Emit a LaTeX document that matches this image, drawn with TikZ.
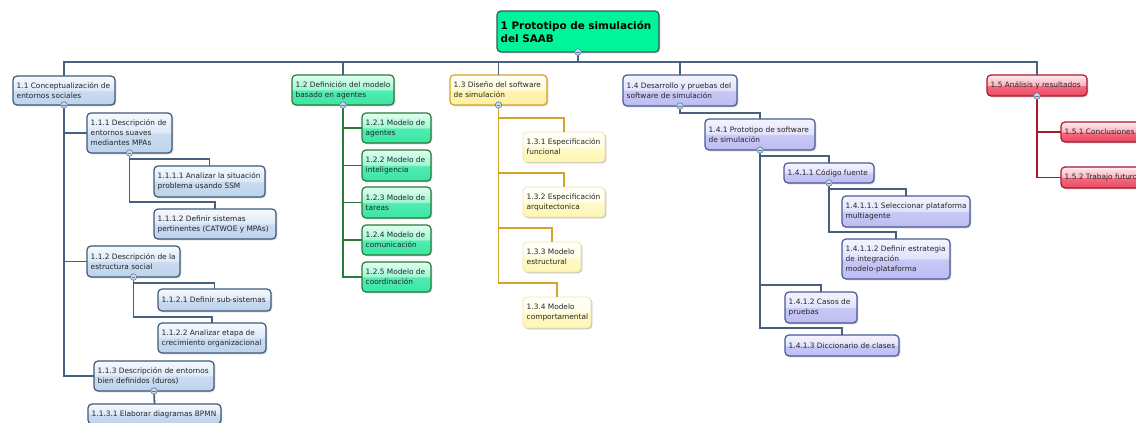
\documentclass[tikz,border=0pt]{standalone}
\usepackage{fontspec}
\setmainfont{DejaVu Sans}
\usetikzlibrary{shadows}
\definecolor{busc}{HTML}{46627F}
\definecolor{bluebd}{HTML}{3E5A78}
\definecolor{greenbd}{HTML}{2A7A3A}
\definecolor{rootfill}{HTML}{00F59B}
\definecolor{rootbd}{HTML}{3C5656}
\definecolor{goldbd}{HTML}{D2A52A}
\definecolor{palebd}{HTML}{F0E6A8}
\definecolor{lavbd}{HTML}{4A5A94}
\definecolor{lavline}{HTML}{46607E}
\definecolor{redbd}{HTML}{A8182E}
\definecolor{knobfill}{HTML}{CAD8EA}
\definecolor{knobbd}{HTML}{5F7E9E}
\newcommand\glossy[5]{%
  \pgfdeclareverticalshading{#1}{100bp}{color(0bp)=(#5); color(25bp)=(#5); color(49bp)=(#4); color(51bp)=(#3); color(75bp)=(#2); color(100bp)=(#2)}}
\definecolor{bT}{HTML}{F6FAFF}\definecolor{bH}{HTML}{DDE9F7}\definecolor{bM}{HTML}{C9DBF0}\definecolor{bB}{HTML}{BDD3EC}
\definecolor{gT}{HTML}{E2FFF3}\definecolor{gH}{HTML}{A0F7D3}\definecolor{gM}{HTML}{52EBB1}\definecolor{gB}{HTML}{3AE6A5}
\definecolor{lT}{HTML}{F5F5FF}\definecolor{lH}{HTML}{E2E2FC}\definecolor{lM}{HTML}{C8C8F6}\definecolor{lB}{HTML}{BDBDF3}
\definecolor{rT}{HTML}{FFEDF0}\definecolor{rH}{HTML}{FBB4C0}\definecolor{rM}{HTML}{F26C82}\definecolor{rB}{HTML}{EC4862}
\definecolor{yT}{HTML}{FFFFF5}\definecolor{yH}{HTML}{FFFBDA}\definecolor{yM}{HTML}{FFF4B2}\definecolor{yB}{HTML}{FFF0A2}
\definecolor{pT}{HTML}{FFFFFA}\definecolor{pH}{HTML}{FFFEEA}\definecolor{pM}{HTML}{FFFAC8}\definecolor{pB}{HTML}{FFF6B4}
\glossy{glblue}{bT}{bH}{bM}{bB}
\glossy{glgreen}{gT}{gH}{gM}{gB}
\glossy{gllav}{lT}{lH}{lM}{lB}
\glossy{glred}{rT}{rH}{rM}{rB}
\glossy{glyel}{yT}{yH}{yM}{yB}
\glossy{glpale}{pT}{pH}{pM}{pB}
\tikzset{
  nbox/.style={draw, rounded corners=4pt, line width=1.2pt, anchor=north west, inner sep=0pt, outer sep=0pt,
    drop shadow={shadow xshift=1.3pt, shadow yshift=-1.3pt, opacity=0.35}},
  bluebox/.style={nbox, draw=bluebd, shade, shading=glblue},
  greenbox/.style={nbox, draw=greenbd, shade, shading=glgreen},
  rootbox/.style={nbox, draw=rootbd, fill=rootfill},
  yelbox/.style={nbox, draw=goldbd, shade, shading=glyel},
  palebox/.style={nbox, line width=0.8pt, draw=palebd, shade, shading=glpale,
    drop shadow={shadow xshift=1.3pt, shadow yshift=-1.3pt, opacity=0.15}},
  lavbox/.style={nbox, draw=lavbd, shade, shading=gllav},
  redbox/.style={nbox, draw=redbd, shade, shading=glred},
  txt/.style={anchor=west, align=left, inner sep=0pt, font=\fontsize{7.4}{10}\selectfont, text=black!85},
  roottxt/.style={anchor=west, align=left, inner sep=0pt, font=\bfseries\fontsize{10.4}{13}\selectfont, text=black},
  knob/.style={circle, draw=knobbd, fill=knobfill, line width=0.6pt, minimum size=6.5pt, inner sep=0pt,
    path picture={\draw[knobbd, line width=0.6pt] ([xshift=-1.8pt]path picture bounding box.center) -- ([xshift=1.8pt]path picture bounding box.center);}},
  conn/.style={line width=1.8pt},
  busline/.style={conn, draw=busc},
  blueline/.style={conn, draw=busc},
  greenline/.style={conn, draw=greenbd},
  goldline/.style={conn, draw=goldbd},
  lavline/.style={conn, draw=lavline},
  redline/.style={conn, draw=redbd},
}
\newcommand\bx[8][txt]{%
  \pgfmathsetmacro\bxw{#5-#3}\pgfmathsetmacro\bxh{#6-#4}%
  \node[#2, minimum width=\bxw pt, minimum height=\bxh pt] (#7) at (#3,#4) {};
  \node[#1] (#7-t) at ([xshift=3.5pt]#7.west) {#8};
}
\begin{document}
\begin{tikzpicture}[x=1pt,y=-1pt]
\useasboundingbox (0,0) rectangle (1136,423);
% boxes
\bx[roottxt]{rootbox}{497}{11}{659}{52}{root}{1 Prototipo de simulación\\del SAAB}
\bx{bluebox}{13}{76}{115}{105}{n11}{1.1 Conceptualización de\\entornos sociales}
\bx{bluebox}{87}{113}{172}{153}{n111}{1.1.1 Descripción de\\entornos suaves\\mediantes MPAs}
\bx{bluebox}{154}{166}{265}{197}{n1111}{1.1.1.1 Analizar la situación\\problema usando SSM}
\bx{bluebox}{154}{209}{276}{239}{n1112}{1.1.1.2 Definir sistemas\\pertinentes (CATWOE y MPAs)}
\bx{bluebox}{87}{246}{180}{277}{n112}{1.1.2 Descripción de la\\estructura social}
\bx{bluebox}{158}{289}{271}{311}{n1121}{1.1.2.1 Definir sub-sistemas}
\bx{bluebox}{158}{323}{266}{353}{n1122}{1.1.2.2 Analizar etapa de\\crecimiento organizacional}
\bx{bluebox}{94}{361}{214}{391}{n113}{1.1.3 Descripción de entornos\\bien definidos (duros)}
\bx{bluebox}{88}{404}{221}{424}{n1131}{1.1.3.1 Elaborar diagramas BPMN}
\bx{greenbox}{292}{75}{394}{105}{n12}{1.2 Definición del modelo\\basado en agentes}
\bx{greenbox}{362}{113}{431}{143}{n121}{1.2.1 Modelo de\\agentes}
\bx{greenbox}{362}{150}{431}{181}{n122}{1.2.2 Modelo de\\inteligencia}
\bx{greenbox}{362}{187}{431}{218}{n123}{1.2.3 Modelo de\\tareas}
\bx{greenbox}{362}{225}{431}{255}{n124}{1.2.4 Modelo de\\comunicación}
\bx{greenbox}{362}{262}{431}{292}{n125}{1.2.5 Modelo de\\coordinación}
\bx{yelbox}{450}{75}{547}{105}{n13}{1.3 Diseño del software\\de simulación}
\bx{palebox}{523}{132}{605}{162}{n131}{1.3.1 Especificación\\funcional}
\bx{palebox}{523}{187}{605}{217}{n132}{1.3.2 Especificación\\arquitectonica}
\bx{palebox}{523}{242}{581}{272}{n133}{1.3.3 Modelo\\estructural}
\bx{palebox}{523}{297}{591}{328}{n134}{1.3.4 Modelo\\comportamental}
\bx{lavbox}{623}{75}{737}{106}{n14}{1.4 Desarrollo y pruebas del\\software de simulación}
\bx{lavbox}{705}{119}{815}{150}{n141}{1.4.1 Prototipo de software\\de simulación}
\bx{lavbox}{784}{163}{874}{183}{n1411}{1.4.1.1 Código fuente}
\bx{lavbox}{842}{196}{970}{227}{n14111}{1.4.1.1.1 Seleccionar plataforma\\multiagente}
\bx{lavbox}{842}{239}{950}{279}{n14112}{1.4.1.1.2 Definir estrategia\\de integración\\modelo-plataforma}
\bx{lavbox}{785}{292}{857}{323}{n1412}{1.4.1.2 Casos de\\pruebas}
\bx{lavbox}{785}{335}{899}{356}{n1413}{1.4.1.3 Diccionario de clases}
\bx{redbox}{987}{75}{1087}{96}{n15}{1.5 Análisis y resultados}
\bx{redbox}{1061}{122}{1150}{142}{n151}{1.5.1 Conclusiones}
\bx{redbox}{1061}{167}{1150}{188}{n152}{1.5.2 Trabajo futuro}
% connectors
\foreach \c in {n11,n12,n13,n14,n15}
  \draw[busline] (root.south) -- ++(0,10) -| (\c.north);
\foreach \c in {n111,n112,n113}
  \draw[blueline] (n11.south) |- (\c.west);
\foreach \c in {n1111,n1112}
  \draw[blueline] (n111.south) |- ([yshift=7pt]\c.north) -- (\c.north);
\foreach \c in {n1121,n1122}
  \draw[blueline] (n112.south) |- ([yshift=6pt]\c.north) -- (\c.north);
\draw[blueline] (n113.south) -- (n1131.north);
\foreach \c in {n121,n122,n123,n124,n125}
  \draw[greenline] (n12.south) |- (\c.west);
\foreach \c in {n131,n132,n133,n134}
  \draw[goldline] (n13.south) |- ([yshift=14pt]\c.north) -- (\c.north);
\draw[lavline] (n14.south) |- ([yshift=6pt]n141.north) -- (n141.north);
\foreach \c in {n1411,n1412,n1413}
  \draw[lavline] (n141.south) |- ([yshift=7pt]\c.north) -- (\c.north);
\foreach \c in {n14111,n14112}
  \draw[lavline] (n1411.south) |- ([yshift=7pt]\c.north) -- (\c.north);
\foreach \c in {n151,n152}
  \draw[redline] (n15.south) |- (\c.west);
% collapse knobs
\foreach \p in {root,n11,n111,n112,n113,n12,n13,n14,n141,n1411,n15}
  \node[knob] (k-\p) at (\p.south) {};
\end{tikzpicture}
\end{document}
